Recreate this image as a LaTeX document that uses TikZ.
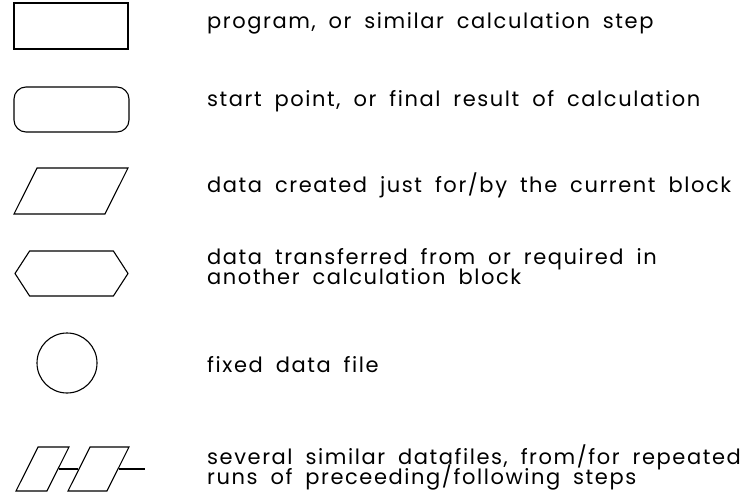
\documentclass[tikz,border=0pt]{standalone}
\usepackage{fontspec}
\setmainfont{Poppins}[WordSpace=1.8,LetterSpace=7.5]
\usetikzlibrary{shapes.geometric,shapes.symbols}
\newcommand\legfont{\fontsize{21}{20}\selectfont\lineskiplimit-20pt\relax}

\begin{document}
\begin{tikzpicture}[x=1pt,y=-1pt,
    symb/.style={draw,line width=1.1pt,inner sep=0pt},
    para/.style={symb,trapezium,trapezium left angle=63.4,
      trapezium right angle=116.6,trapezium stretches body,
      text height=#1,text depth=0pt},
    txt/.style={anchor=base west,align=left,inner sep=0pt,font=\legfont}]
    \useasboundingbox (0,0) rectangle (751,497);

    % symbols
    \node[symb,minimum width=114pt,minimum height=46pt] (prog) at (71,26) {};
    \node[symb,rounded corners=12pt,minimum width=115pt,minimum height=45pt] (start) at (71.5,109.5) {};
    \node[para=46pt,minimum width=114pt] (local) at (71,191) {};
    \node[symb,signal,signal to=west and east,signal pointer angle=114,
      minimum width=113pt,minimum height=45pt] (trans) at (71.5,273.5) {};
    \node[symb,circle,minimum size=60pt] (fixed) at (67,363) {};
    \node[para=44pt,minimum width=53pt] (rep1) at (42.5,469) {};
    \node[para=44pt,minimum width=61pt] (rep2) at (98.5,469) {};
    \coordinate (repend) at (145,469);
    \draw[line width=1.1pt] (rep1.right side) -- (rep2.left side);
    \draw[line width=1.1pt] (rep2.right side) -- (repend);

    % explanations
    \node[txt] (tprog) at (207,29) {program, or similar calculation step};
    \node[txt] (tstart) at (207,107) {start point, or final result of calculation};
    \node[txt] (tlocal) at (207,192) {data created just for/by the current block};
    \node[txt] (ttrans) at (207,284) {data transferred from or required in\\another calculation block};
    \node[txt] (tfixed) at (207,372) {fixed data file};
    \node[txt] (trep) at (207,484) {several similar datafiles, from/for repeated\\runs of preceeding/following steps};
\end{tikzpicture}
\end{document}
